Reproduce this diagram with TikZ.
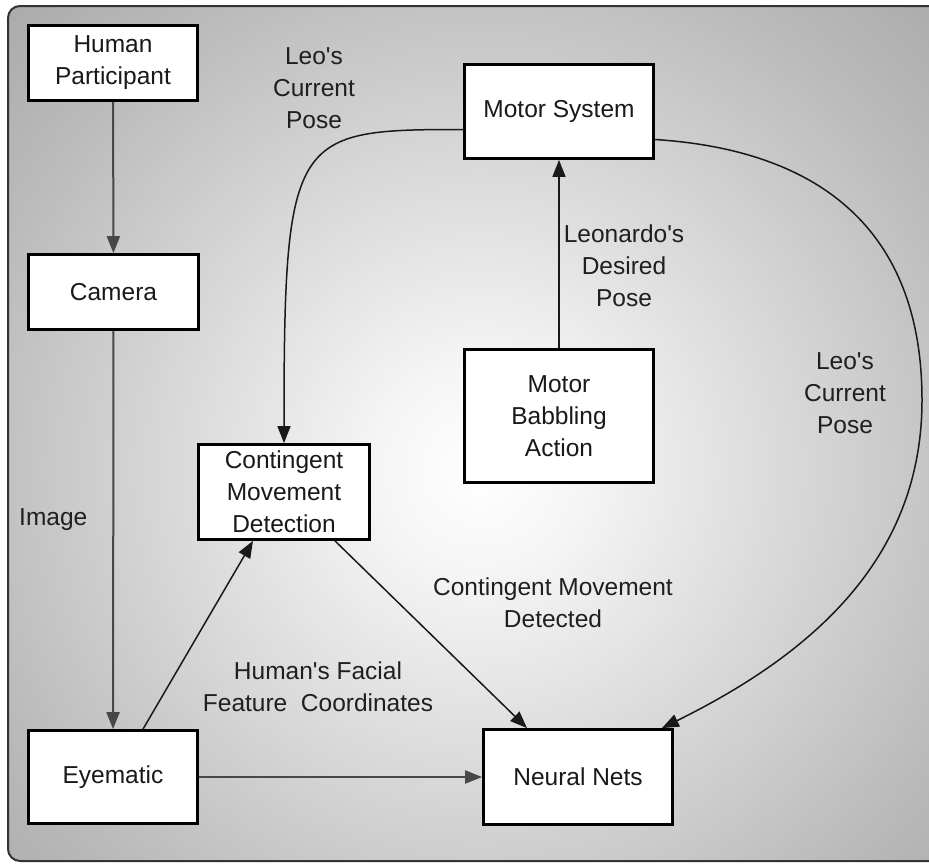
\documentclass[tikz,border=0pt]{standalone}
\usepackage{fontspec}
\setmainfont{Liberation Sans}
\usetikzlibrary{arrows.meta,calc}

% soft light glow behind the whole diagram (radius 50bp maps to the circle's edge)
\pgfdeclareradialshading{bgglow}{\pgfpoint{0bp}{0bp}}{%
  color(0bp)=(white); color(4bp)=(white!96!black); color(20bp)=(black!27);
  color(36bp)=(black!46); color(50bp)=(black!60)}

\newcommand\dgmfont{\fontsize{24.5}{32}\selectfont}
\newcommand\aq{\textquotesingle}

\tikzset{
  block/.style={draw=black, line width=2.8pt, fill=white, align=center,
    inner sep=0pt, font=\dgmfont, text=black!90},
  lbl/.style={align=center, inner sep=0pt, font=\dgmfont, text=black!88},
  link/.style={line width=1.5pt, draw=black!90,
    -{Triangle[length=17pt,width=13pt]}},
  graylink/.style={link, line width=2pt, draw=black!72},
}

\begin{document}
\begin{tikzpicture}[x=1pt,y=-1pt]
  % page and frame
  \fill[white] (0,0) rectangle (929,863);
  \useasboundingbox (0,0) rectangle (929,863);
  \begin{scope}
    \clip[rounded corners=12pt] (8,6) rectangle (960,861);
    \shade[shading=bgglow] (480,470) circle (660);
  \end{scope}
  \draw[line width=2pt, draw=black!80, rounded corners=12pt] (8,6) rectangle (960,861);

  % processing blocks
  \node[block, minimum width=169, minimum height=75] (hp)  at (113,63)    {Human\\Participant};
  \node[block, minimum width=170, minimum height=75] (cam) at (113.5,292) {Camera};
  \node[block, minimum width=169, minimum height=93] (eye) at (113,777)   {Eyematic};
  \node[block, minimum width=171, minimum height=95] (cmd) at (284,492)   {Contingent\\Movement\\Detection};
  \node[block, minimum width=189, minimum height=94] (ms)  at (559,111.5) {Motor System};
  \node[block, minimum width=189, minimum height=133] (mb) at (559,416)   {Motor\\Babbling\\Action};
  \node[block, minimum width=189, minimum height=95] (nn)  at (578,777)   {Neural Nets};

  % connector labels
  \node[lbl] (poseL) at (314,88)  {Leo\aq s\\Current\\Pose};
  \node[lbl] (desired) at (624,266) {Leonardo\aq s\\Desired\\Pose};
  \node[lbl] (poseR) at (845,393) {Leo\aq s\\Current\\Pose};
  \node[lbl, anchor=west] (image) at (19,520) {Image};
  \node[lbl] (facial) at (318,687) {Human\aq s Facial\\Feature\ \ Coordinates};
  \node[lbl] (cmdet) at (553,603) {Contingent Movement\\Detected};

  % connectors
  \draw[graylink] (hp) -- (cam);
  \draw[graylink] (cam) -- (eye);
  \draw[graylink] (eye) -- (nn);
  \draw[link] (mb) -- (ms);
  \draw[link] ([xshift=30pt]eye.north) -- ([xshift=-31pt]cmd.south);
  \draw[link] ([xshift=51pt]cmd.south) -- ([xshift=-51pt]nn.north);
  \draw[link] ([yshift=-18pt]ms.west) .. controls +(-170,0) and +(0,-310) .. (cmd.north);
  \draw[link] ([yshift=-28pt]ms.east) .. controls (820,150) and (922,230) .. (922,400)
      .. controls (922,560) and (810,655) .. ([xshift=-12pt]nn.north east);
\end{tikzpicture}
\end{document}
